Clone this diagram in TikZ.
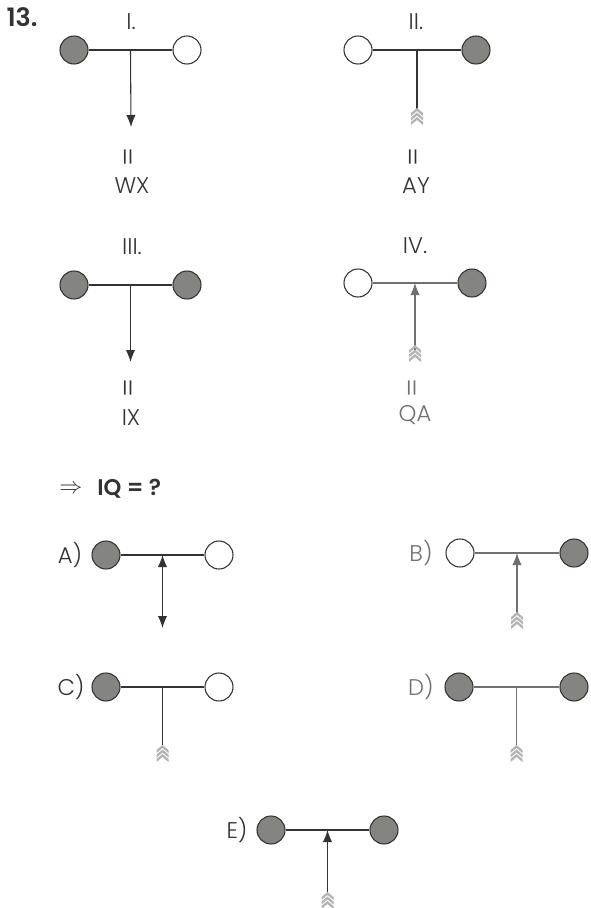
\documentclass[tikz,border=0pt]{standalone}
\usepackage{fontspec}
\setmainfont{Poppins}[UprightFont=* Light, BoldFont=* SemiBold]
\usetikzlibrary{arrows.meta,calc}
\definecolor{ink}{HTML}{333333}
\definecolor{dot}{HTML}{848480}
\definecolor{feather}{HTML}{B4B4B4}
\definecolor{pale}{HTML}{707070}
\begin{document}
\begin{tikzpicture}[x=0.75pt,y=-0.75pt,
  full/.style={circle, draw=ink, fill=dot, line width=0.8pt, minimum size=21pt, inner sep=0pt},
  empty/.style={circle, draw=ink, fill=white, line width=0.8pt, minimum size=21pt, inner sep=0pt},
  bar/.style={draw=ink, line width=0.8pt},
  palebar/.style={draw=pale, line width=0.8pt},
  arr/.style={bar, -{Latex[length=9pt,width=7pt]}},
  twoarr/.style={bar, {Latex[length=9pt,width=7pt]}-{Latex[length=9pt,width=7pt]}},
  lbl/.style={font=\fontsize{17}{19}\selectfont, text=ink, inner sep=0pt},
  eqs/.style={font=\fontsize{21}{23}\selectfont, text=ink, inner sep=0pt, rotate=90},
  fletch/.pic={
    \foreach \k in {0,4.5,9} {
      \fill[feather] (-6,\k+5) -- (0,\k) -- (6,\k+5) -- (6,\k+8) -- (0,\k+3) -- (-6,\k+8) -- cycle;
    }
  }]
\useasboundingbox (0,0) rectangle (590,908);

% title
\node[font=\fontsize{19}{21}\selectfont\bfseries, text=ink, inner sep=0pt] (num) at (22,17) {13.};

% Panel I
\node[lbl] (t1) at (131,22) {I.};
\node[full] (a1) at (74,50) {};
\node[empty] (b1) at (187,50) {};
\draw[bar] (a1) -- (b1);
\coordinate (j1) at ($(a1)!0.5!(b1)$);
\coordinate (e1) at (131,127);
\draw[arr] (j1) -- (e1);
\node[eqs] (q1) at (131,157) {=};
\node[lbl] (r1) at (132,186) {WX};

% Panel II
\node[lbl] (t2) at (416,22) {II.};
\node[empty] (a2) at (358,50) {};
\node[full] (b2) at (476,50) {};
\draw[bar] (a2) -- (b2);
\coordinate (j2) at ($(a2)!0.5!(b2)$);
\coordinate (e2) at (417,111);
\draw[bar] (j2) -- (e2);
\pic at (417,108) {fletch};
\node[eqs] (q2) at (416,157) {=};
\node[lbl] (r2) at (416,186) {AY};

% Panel III
\node[lbl] (t3) at (132,247) {III.};
\node[full] (a3) at (74,285) {};
\node[full] (b3) at (187,285) {};
\draw[bar] (a3) -- (b3);
\coordinate (j3) at ($(a3)!0.5!(b3)$);
\coordinate (e3) at (130.5,362);
\draw[arr] (j3) -- (e3);
\node[eqs] (q3) at (131,388) {=};
\node[lbl] (r3) at (131,418) {IX};

% Panel IV
\node[lbl] (t4) at (415,246) {IV.};
\node[empty] (a4) at (358,283) {};
\node[full] (b4) at (472,283) {};
\draw[palebar] (a4) -- (b4);
\coordinate (j4) at ($(a4)!0.5!(b4)$);
\coordinate (e4) at (415,350);
\draw[palebar, -{Latex[length=9pt,width=7pt]}] (e4) -- (j4);
\pic at (415,345) {fletch};
\node[eqs, text=pale] (q4) at (415,388) {=};
\node[lbl, text=pale] (r4) at (415,415) {QA};

% question
\node[lbl, font=\fontsize{19}{21}\selectfont] (imp) at (71,489) {$\Rightarrow$};
\node[lbl, font=\fontsize{17}{19}\selectfont\bfseries, anchor=west] (iq) at (97,489) {IQ = ?};

% A
\node[lbl] (la) at (70,555) {A)};
\node[full] (aa) at (106,555) {};
\node[empty] (ba) at (219,555) {};
\draw[bar] (aa) -- (ba);
\coordinate (ja) at ($(aa)!0.5!(ba)$);
\coordinate (ea) at (162.5,628);
\draw[twoarr] (ja) -- (ea);

% B
\node[lbl, text=pale] (lb) at (421,553) {B)};
\node[empty] (ab) at (460,553) {};
\node[full] (bb) at (574,553) {};
\draw[palebar] (ab) -- (bb);
\coordinate (jb) at ($(ab)!0.5!(bb)$);
\coordinate (eb) at (517,615);
\draw[palebar, -{Latex[length=9pt,width=7pt]}] (eb) -- (jb);
\pic at (517,612) {fletch};

% C
\node[lbl] (lc) at (71,687) {C)};
\node[full] (ac) at (106,687) {};
\node[empty] (bc) at (219,687) {};
\draw[bar] (ac) -- (bc);
\coordinate (jc) at ($(ac)!0.5!(bc)$);
\coordinate (ec) at (162.5,748);
\draw[bar] (jc) -- (ec);
\pic at (162.5,745) {fletch};

% D
\node[lbl, text=pale] (ld) at (421,687) {D)};
\node[full] (ad) at (459,687) {};
\node[full] (bd) at (574,687) {};
\draw[palebar] (ad) -- (bd);
\coordinate (jd) at ($(ad)!0.5!(bd)$);
\coordinate (ed) at (516.5,748);
\draw[palebar] (jd) -- (ed);
\pic at (516.5,745) {fletch};

% E
\node[lbl] (le) at (237,830) {E)};
\node[full] (ae) at (271,830) {};
\node[full] (be) at (384,830) {};
\draw[bar] (ae) -- (be);
\coordinate (je) at ($(ae)!0.5!(be)$);
\coordinate (ee) at (327.5,895);
\draw[bar, -{Latex[length=9pt,width=7pt]}] (ee) -- (je);
\pic at (327.5,892) {fletch};
\end{tikzpicture}
\end{document}
